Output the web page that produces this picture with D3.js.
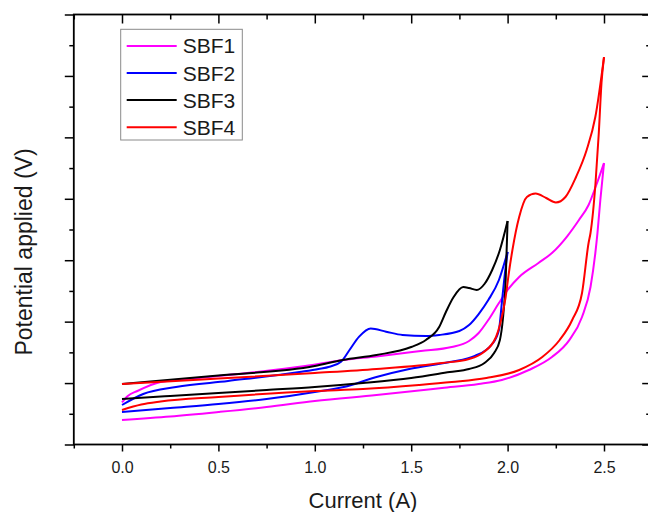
<!DOCTYPE html>
<html>
<head>
<meta charset="utf-8">
<script src="https://cdn.jsdelivr.net/npm/d3@7"></script>
<style>
  body { margin: 0; background: #fff; }
  svg { display: block; font-family: "Liberation Sans", Arial, sans-serif; }
</style>
</head>
<body>
<div id="chart"></div>
<script>
// legend names
var names = ["SBF1", "SBF2", "SBF3", "SBF4"];

// every loop is kept as two branches, [current (A), potential]
var sbf1Lower = [[0, 0.40], [0.25, 0.456], [0.5, 0.529], [0.75, 0.61], [1.0, 0.708], [1.32, 0.806], [1.66, 0.92], [1.85, 0.985], [1.97, 1.05], [2.11, 1.213], [2.23, 1.424], [2.32, 1.70], [2.386, 2.076], [2.43, 2.564], [2.455, 3.117], [2.466, 3.44], [2.481, 3.98], [2.5, 4.582]];
var sbf1Upper = [[0, 0.684], [0.03, 0.79], [0.08, 0.871], [0.2, 1.017], [0.4, 1.083], [0.7, 1.18], [0.95, 1.278], [1.15, 1.376], [1.32, 1.433], [1.55, 1.522], [1.71, 1.587], [1.8, 1.685], [1.85, 1.815], [1.9, 2.027], [1.955, 2.303], [2.0, 2.515], [2.06, 2.727], [2.16, 2.955], [2.23, 3.117], [2.31, 3.394], [2.37, 3.655], [2.42, 3.899], [2.46, 4.224], [2.5, 4.582]];

var sbf2Lower = [[0, 0.529], [0.25, 0.594], [0.5, 0.659], [0.75, 0.741], [1.0, 0.855], [1.15, 0.936], [1.32, 1.099], [1.49, 1.229], [1.7, 1.343], [1.83, 1.441], [1.92, 1.636], [1.955, 1.864], [1.97, 2.303], [1.985, 2.759], [2.0, 3.134]];
var sbf2Upper = [[0, 0.643], [0.11, 0.822], [0.28, 0.936], [0.55, 1.034], [0.92, 1.18], [1.02, 1.229], [1.076, 1.266], [1.136, 1.348], [1.18, 1.538], [1.23, 1.755], [1.29, 1.888], [1.37, 1.836], [1.455, 1.783], [1.576, 1.766], [1.645, 1.783], [1.75, 1.848], [1.8, 1.945], [1.85, 2.124], [1.9, 2.352], [1.955, 2.678], [2.0, 3.134]];

var sbf3Lower = [[0, 0.741], [0.25, 0.79], [0.5, 0.838], [0.75, 0.887], [1.0, 0.936], [1.25, 1.001], [1.5, 1.083], [1.7, 1.18], [1.8, 1.229], [1.88, 1.327], [1.93, 1.489], [1.96, 1.701], [1.975, 2.027], [1.99, 2.678], [2.0, 3.638]];
var sbf3Upper = [[0, 0.985], [0.5, 1.123], [1.0, 1.278], [1.145, 1.376], [1.32, 1.457], [1.5, 1.587], [1.576, 1.701], [1.645, 1.913], [1.68, 2.157], [1.72, 2.401], [1.77, 2.564], [1.8, 2.548], [1.84, 2.515], [1.88, 2.613], [1.92, 2.841], [1.96, 3.166], [2.0, 3.638]];

var sbf4Lower = [[0, 0.562], [0.1, 0.651], [0.2, 0.70], [0.5, 0.773], [1.0, 0.871], [1.25, 0.903], [1.54, 0.969], [1.71, 1.017], [1.89, 1.083], [2.06, 1.213], [2.18, 1.424], [2.27, 1.701], [2.335, 2.027], [2.386, 2.466], [2.42, 3.28], [2.43, 3.443], [2.456, 4.257], [2.473, 5.071], [2.487, 5.885], [2.5, 6.308]];
var sbf4Upper = [[0, 0.985], [0.5, 1.074], [1.0, 1.164], [1.32, 1.229], [1.66, 1.327], [1.8, 1.392], [1.87, 1.489], [1.94, 1.75], [1.96, 1.945], [1.99, 2.401], [2.005, 2.759], [2.025, 3.166], [2.06, 3.703], [2.1, 4.029], [2.145, 4.086], [2.2, 4.013], [2.25, 3.939], [2.3, 4.029], [2.355, 4.355], [2.41, 4.794], [2.455, 5.331], [2.5, 6.308]];

// ticks (y axis has no labels in the original)
var xMajor = [0, 0.5, 1.0, 1.5, 2.0, 2.5];
var xMinor = [-0.25, 0.25, 0.75, 1.25, 1.75, 2.25, 2.75];
var yMajor = [0, 1, 2, 3, 4, 5, 6, 7];
var yMinor = [0.5, 1.5, 2.5, 3.5, 4.5, 5.5, 6.5];

var xTitle = "Current (A)";
var yTitle = "Potential applied (V)";

var series = [
  { name: names[0], lower: sbf1Lower, upper: sbf1Upper, color: "#ff00ff" },
  { name: names[1], lower: sbf2Lower, upper: sbf2Upper, color: "#0000ff" },
  { name: names[2], lower: sbf3Lower, upper: sbf3Upper, color: "#000000" },
  { name: names[3], lower: sbf4Lower, upper: sbf4Upper, color: "#ff0000" }
];

var width = 648, height = 512;
// plot box (right edge falls just outside the picture)
var box = { x0: 73.8, x1: 652.2, y0: 14.5, y1: 444.5 };
var font = "'Liberation Sans', Arial, sans-serif";

var svg = d3.select("#chart")
  .append("svg")
  .attr("width", width)
  .attr("height", height);

var x = d3.scaleLinear().domain([-0.25, 2.75]).range([box.x0, box.x1]);
var y = d3.scaleLinear().domain([0, 7]).range([box.y1, box.y0]);

// curves first, frame drawn over them
var line = d3.line()
  .x(function (d) { return x(d[0]); })
  .y(function (d) { return y(d[1]); })
  .curve(d3.curveMonotoneX);

series.forEach(function (s) {
  [s.lower, s.upper].forEach(function (branch) {
    svg.append("path")
      .datum(branch)
      .attr("fill", "none")
      .attr("stroke", s.color)
      .attr("stroke-width", 2)
      .attr("stroke-linejoin", "round")
      .attr("d", line);
  });
});

function styleAxis(g) {
  g.attr("font-family", font).attr("font-size", 16);
  g.select(".domain").remove();
  g.selectAll("line").attr("stroke", "#000").attr("stroke-width", 1.5);
  g.selectAll("text").attr("fill", "#1a1a1a");
}

// bottom: labelled majors + minors, outward
svg.append("g")
  .attr("transform", "translate(0," + box.y1 + ")")
  .call(d3.axisBottom(x).tickValues(xMajor).tickFormat(d3.format(".1f")).tickSize(7).tickPadding(10).tickSizeOuter(0))
  .call(styleAxis);
svg.append("g")
  .attr("transform", "translate(0," + box.y1 + ")")
  .call(d3.axisBottom(x).tickValues(xMinor).tickFormat("").tickSize(4).tickSizeOuter(0))
  .call(styleAxis);

// top: inward
svg.append("g")
  .attr("transform", "translate(0," + box.y0 + ")")
  .call(d3.axisTop(x).tickValues(xMajor).tickFormat("").tickSize(-9).tickSizeOuter(0))
  .call(styleAxis);
svg.append("g")
  .attr("transform", "translate(0," + box.y0 + ")")
  .call(d3.axisTop(x).tickValues(xMinor).tickFormat("").tickSize(-5).tickSizeOuter(0))
  .call(styleAxis);

// left: outward, no labels
svg.append("g")
  .attr("transform", "translate(" + box.x0 + ",0)")
  .call(d3.axisLeft(y).tickValues(yMajor).tickFormat("").tickSize(9).tickSizeOuter(0))
  .call(styleAxis);
svg.append("g")
  .attr("transform", "translate(" + box.x0 + ",0)")
  .call(d3.axisLeft(y).tickValues(yMinor).tickFormat("").tickSize(4.5).tickSizeOuter(0))
  .call(styleAxis);

// right: inward
svg.append("g")
  .attr("transform", "translate(" + box.x1 + ",0)")
  .call(d3.axisRight(y).tickValues(yMajor).tickFormat("").tickSize(-10).tickSizeOuter(0))
  .call(styleAxis);
svg.append("g")
  .attr("transform", "translate(" + box.x1 + ",0)")
  .call(d3.axisRight(y).tickValues(yMinor).tickFormat("").tickSize(-6).tickSizeOuter(0))
  .call(styleAxis);

// frame
svg.append("rect")
  .attr("x", box.x0)
  .attr("y", box.y0)
  .attr("width", box.x1 - box.x0)
  .attr("height", box.y1 - box.y0)
  .attr("fill", "none")
  .attr("stroke", "#000")
  .attr("stroke-width", 1.8);

// axis titles
svg.append("text")
  .attr("x", (box.x0 + box.x1) / 2)
  .attr("y", 508)
  .attr("text-anchor", "middle")
  .attr("fill", "#1a1a1a")
  .style("font-size", "22px")
  .text(xTitle);

svg.append("text")
  .attr("transform", "translate(32,252) rotate(-90)")
  .attr("text-anchor", "middle")
  .attr("fill", "#1a1a1a")
  .style("font-size", "23px")
  .text(yTitle);

// legend
var legend = svg.append("g").attr("transform", "translate(120.7,29.3)");
legend.append("rect")
  .attr("width", 121.6)
  .attr("height", 110.7)
  .attr("fill", "#fff")
  .attr("stroke", "#8a8a8a")
  .attr("stroke-width", 1);

var item = legend.selectAll("g.item")
  .data(series)
  .enter().append("g")
  .attr("class", "item")
  .attr("transform", function (d, i) { return "translate(0," + (16.6 + i * 27.1) + ")"; });
item.append("line")
  .attr("x1", 6).attr("x2", 56)
  .attr("stroke", function (d) { return d.color; })
  .attr("stroke-width", 2);
item.append("text")
  .attr("x", 62)
  .attr("y", 7.5)
  .attr("fill", "#1a1a1a")
  .style("font-size", "21px")
  .text(function (d) { return d.name; });
</script>
</body>
</html>
